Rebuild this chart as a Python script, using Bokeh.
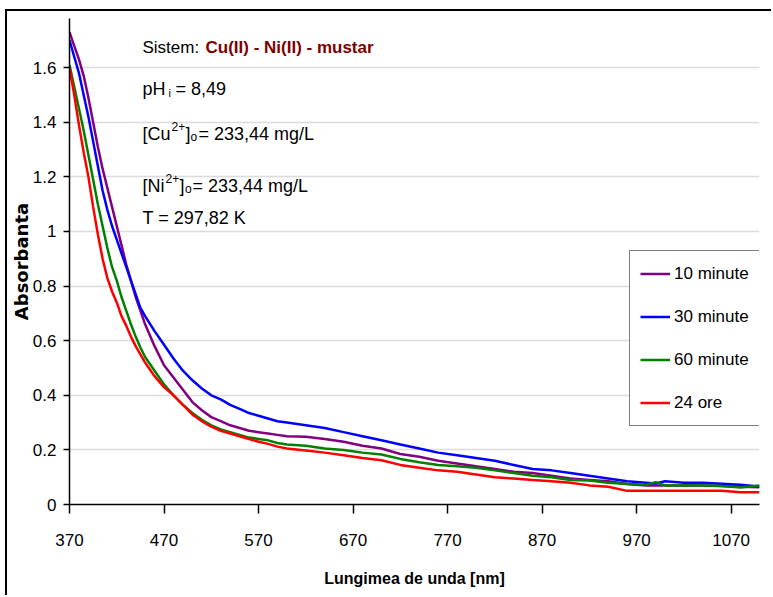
from bokeh.plotting import figure
from bokeh.models import Range1d, FixedTicker, Legend, LegendItem, Label, ColumnDataSource
from bokeh.embed import file_html
from bokeh.resources import INLINE

# ---------------- data ----------------
wavelength = [370, 375, 380, 385, 390, 395, 400, 405, 410, 415, 420, 425, 430, 435, 440, 445, 450,
              460, 470, 480, 490, 500, 510, 520, 530, 540, 550, 560, 570, 580, 590, 600,
              620, 640, 660, 680, 700, 720, 740, 760, 780, 800, 820, 840, 860, 880, 900,
              920, 940, 960, 980, 990, 1000, 1020, 1040, 1060, 1080, 1100]

abs_10_minute = [1.73, 1.68, 1.63, 1.57, 1.49, 1.40, 1.31, 1.23, 1.16, 1.09, 1.02, 0.95, 0.88, 0.82, 0.76, 0.71, 0.66,
                 0.58, 0.51, 0.465, 0.42, 0.375, 0.345, 0.32, 0.305, 0.29, 0.28, 0.27, 0.265, 0.26, 0.255, 0.25,
                 0.248, 0.24, 0.23, 0.215, 0.205, 0.185, 0.175, 0.16, 0.15, 0.14, 0.13, 0.12, 0.115, 0.105, 0.095,
                 0.09, 0.085, 0.075, 0.07, 0.07, 0.07, 0.07, 0.07, 0.068, 0.065, 0.063]

abs_30_minute = [1.70, 1.64, 1.58, 1.50, 1.42, 1.33, 1.24, 1.15, 1.08, 1.02, 0.97, 0.92, 0.87, 0.82, 0.77, 0.72, 0.69,
                 0.635, 0.585, 0.535, 0.49, 0.455, 0.425, 0.40, 0.385, 0.365, 0.35, 0.335, 0.325, 0.315, 0.305, 0.30,
                 0.29, 0.28, 0.265, 0.25, 0.235, 0.22, 0.205, 0.19, 0.18, 0.17, 0.16, 0.145, 0.13, 0.125, 0.115,
                 0.105, 0.095, 0.085, 0.08, 0.077, 0.085, 0.08, 0.08, 0.076, 0.072, 0.066]

abs_60_minute = [1.61, 1.53, 1.45, 1.37, 1.28, 1.19, 1.10, 1.02, 0.94, 0.87, 0.82, 0.76, 0.71, 0.66, 0.615, 0.575, 0.54,
                 0.49, 0.44, 0.40, 0.365, 0.335, 0.31, 0.29, 0.275, 0.265, 0.255, 0.245, 0.24, 0.235, 0.225, 0.22,
                 0.215, 0.205, 0.20, 0.19, 0.183, 0.167, 0.155, 0.145, 0.14, 0.135, 0.125, 0.115, 0.105, 0.10, 0.09,
                 0.088, 0.08, 0.075, 0.072, 0.082, 0.07, 0.07, 0.07, 0.068, 0.062, 0.07]

abs_24_ore = [1.60, 1.50, 1.39, 1.29, 1.20, 1.09, 0.99, 0.90, 0.83, 0.78, 0.74, 0.69, 0.655, 0.615, 0.58, 0.55, 0.52,
              0.47, 0.43, 0.40, 0.365, 0.33, 0.305, 0.285, 0.27, 0.26, 0.25, 0.24, 0.23, 0.222, 0.212, 0.205,
              0.198, 0.19, 0.18, 0.17, 0.162, 0.145, 0.135, 0.125, 0.12, 0.11, 0.10, 0.095, 0.09, 0.085, 0.08,
              0.07, 0.065, 0.05, 0.05, 0.05, 0.05, 0.05, 0.05, 0.05, 0.045, 0.045]

series_names = ["10 minute", "30 minute", "60 minute", "24 ore"]
series_colors = ["#800080", "#0000FF", "#008000", "#FF0000"]

x_ticks = [370, 470, 570, 670, 770, 870, 970, 1070]
y_ticks = [0, 0.2, 0.4, 0.6, 0.8, 1, 1.2, 1.4, 1.6]
y_tick_labels = ["0", "0.2", "0.4", "0.6", "0.8", "1", "1.2", "1.4", "1.6"]

x_title = "Lungimea de unda [nm]"
y_title = "Absorbanta"

SANS = "Liberation Sans"

# ---------------- figure ----------------
p = figure(width=766, height=586, output_backend="svg", toolbar_location=None,
           x_range=Range1d(370, 1100), y_range=Range1d(0, 1.78),
           min_border_left=61, min_border_right=14, min_border_top=7, min_border_bottom=93)
p.styles = {"margin-left": "5px", "margin-top": "9px",
            "border-left": "2px solid #000000", "border-top": "2px solid #000000"}
p.outline_line_color = None
p.background_fill_color = "white"
p.border_fill_color = "white"

source = ColumnDataSource(data=dict(x=wavelength, s0=abs_10_minute, s1=abs_30_minute,
                                    s2=abs_60_minute, s3=abs_24_ore))
renderers = []
for i, col in enumerate(["s0", "s1", "s2", "s3"]):
    r = p.line("x", col, source=source, line_color=series_colors[i], line_width=2.5)
    renderers.append(r)

# axes
p.xaxis.ticker = FixedTicker(ticks=x_ticks)
p.yaxis.ticker = FixedTicker(ticks=y_ticks)
p.yaxis.major_label_overrides = {v: s for v, s in zip(y_ticks, y_tick_labels)}
for ax in (p.xaxis, p.yaxis):
    ax.axis_line_color = "#000000"
    ax.axis_line_width = 1.5
    ax.major_tick_line_color = "#000000"
    ax.major_tick_line_width = 1.5
    ax.major_tick_in = 0
    ax.minor_tick_line_color = None
    ax.major_label_text_font = SANS
    ax.major_label_text_font_size = "17px"
    ax.major_label_text_color = "#000000"
    ax.axis_label_text_color = "#000000"
    ax.axis_label_text_font_style = "bold"
p.xaxis.major_tick_out = 9
p.yaxis.major_tick_out = 6
p.xaxis.major_label_standoff = 20
p.yaxis.major_label_standoff = 7

p.xaxis.axis_label = x_title
p.xaxis.axis_label_text_font = SANS
p.xaxis.axis_label_text_font_size = "16px"
p.xaxis.axis_label_standoff = 21

p.yaxis.axis_label = y_title
p.yaxis.axis_label_text_font = "DejaVu Sans"
p.yaxis.axis_label_text_font_size = "18px"
p.yaxis.axis_label_standoff = -2

p.xgrid.visible = False
p.ygrid.grid_line_color = "#DCDCDC"
p.ygrid.grid_line_width = 1.5

# legend
legend = Legend(items=[LegendItem(label=n, renderers=[r]) for n, r in zip(series_names, renderers)],
                location=(560, 78))
legend.border_line_color = "#000000"
legend.border_line_width = 1
legend.background_fill_color = "white"
legend.background_fill_alpha = 1
legend.padding = 10
legend.spacing = 18
legend.margin = 0
legend.glyph_width = 30
legend.glyph_height = 25
legend.label_height = 25
legend.label_standoff = 4
legend.label_text_font = SANS
legend.label_text_font_size = "17px"
legend.label_text_color = "#000000"
p.add_layout(legend)

# annotation text block (screen units relative to the plot frame)
def lab(x, y, text, size="18px", bold=False, color="#000000"):
    p.add_layout(Label(x=x, y=y, x_units="screen", y_units="screen", text=text,
                       text_font=SANS, text_font_size=size,
                       text_font_style="bold" if bold else "normal",
                       text_color=color, text_baseline="alphabetic", text_align="left"))

lab(73, 457, "Sistem:", size="17px")
lab(136, 457, "Cu(II) - Ni(II) - mustar", size="17px", bold=True, color="#800000")

lab(73, 416, "pH")
lab(99, 412, "i", size="11px")
lab(106, 416, "= 8,49")

lab(73, 371, "[Cu")
lab(102, 378, "2+", size="12px")
lab(116, 371, "]")
lab(121, 368, "o", size="12px")
lab(129, 371, "= 233,44 mg/L")

lab(73, 319, "[Ni")
lab(96, 326, "2+", size="12px")
lab(110, 319, "]")
lab(115.5, 316, "o", size="12px")
lab(123, 319, "= 233,44 mg/L")

lab(73, 287, "T = 297,82 K")

open("out.html", "w").write(file_html(p, INLINE))
